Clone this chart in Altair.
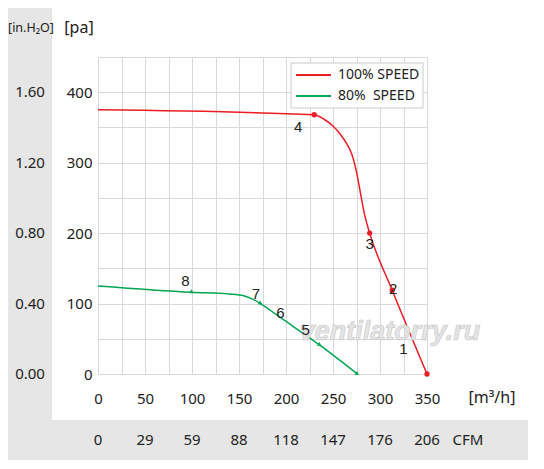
import altair as alt
import pandas as pd

# ---- data ----
red_flow = [0, 230, 240, 250, 258, 265, 270, 275, 280, 284, 289, 313, 350]
red_pa = [375, 368, 362, 352, 340, 326, 312, 287, 251, 224, 200, 119, 0]
green_flow = [0, 100, 140, 155, 165, 173, 192, 236, 276]
green_pa = [125, 116, 113.5, 111, 106, 100, 82, 41, 0]

red_pt_flow = [230, 289, 313, 350]
red_pt_pa = [368, 200, 119, 0]
green_pt_flow = [100, 173, 236, 276]
green_pt_pa = [116, 100, 41, 0]

lab_text = ["4", "3", "2", "1", "8", "7", "6", "5"]
lab_flow = [213, 289, 314, 325, 93, 168, 194, 221]
lab_pa = [350, 184, 121, 36, 132, 114, 87, 62]

series_names = ["100% SPEED", "80%\u00a0 SPEED"]
series_colors = ["#ed1c24", "#00a651"]

x_ticks = [0, 50, 100, 150, 200, 250, 300, 350]
cfm_labels = ["0", "29", "59", "88", "118", "147", "176", "206"]
pa_ticks = [0, 100, 200, 300, 400]
inh2o_labels = ["0.00", "0.40", "0.80", "1.20", "1.60"]

FONT = "Noto Sans"
GRAY = "#e5e6e5"
TXT = "#222222"

lines_df = pd.DataFrame({
    "flow": red_flow + green_flow,
    "pressure": red_pa + green_pa,
    "series": [series_names[0]] * len(red_flow) + [series_names[1]] * len(green_flow),
})
red_pts = pd.DataFrame({"flow": red_pt_flow, "pressure": red_pt_pa})
green_pts = pd.DataFrame({"flow": green_pt_flow, "pressure": green_pt_pa})
labels_df = pd.DataFrame({"flow": lab_flow, "pressure": lab_pa, "t": lab_text})
cfm_df = pd.DataFrame({"flow": x_ticks, "t": cfm_labels})
inh_df = pd.DataFrame({"pressure": pa_ticks, "t": inh2o_labels})
one = pd.DataFrame({"a": [0]})

xs = alt.Scale(domain=[0, 350], nice=False, zero=True)
ys = alt.Scale(domain=[0, 450], nice=False, zero=True)

X = alt.X("flow:Q", scale=xs, axis=alt.Axis(
    values=list(range(0, 351, 25)),
    labelExpr="datum.value % 50 === 0 ? datum.label : ''",
    grid=True, gridColor="#d9d9d9", ticks=False, domain=False,
    labelPadding=24, labelBaseline="middle", labelFontSize=15,
    labelFont=FONT, labelColor=TXT, labelFlush=False, labelOverlap=False,
    title=None))
Y = alt.Y("pressure:Q", scale=ys, axis=alt.Axis(
    values=list(range(0, 451, 50)),
    labelExpr="datum.value % 100 === 0 ? datum.label : ''",
    grid=True, gridColor="#d9d9d9", ticks=False, domain=False,
    labelPadding=6, labelFontSize=15, labelFont=FONT, labelColor=TXT,
    labelFlush=False, labelOverlap=False, title=None))

band_left = alt.Chart(one).mark_rect(color=GRAY).encode(
    x=alt.value(-91), x2=alt.value(-46), y=alt.value(-49), y2=alt.value(403))
band_bottom = alt.Chart(one).mark_rect(color=GRAY).encode(
    x=alt.value(-91), x2=alt.value(430), y=alt.value(363), y2=alt.value(403))

lines = alt.Chart(lines_df).mark_line(interpolate="monotone", strokeWidth=1.5).encode(
    x=X, y=Y,
    color=alt.Color("series:N", scale=alt.Scale(domain=series_names, range=series_colors),
                    legend=None),
)

red_marks = alt.Chart(red_pts).mark_point(filled=True, shape="circle", size=28,
                                          color=series_colors[0], opacity=1).encode(x=X, y=Y)
green_marks = alt.Chart(green_pts).mark_point(filled=True, shape="triangle-right", size=22,
                                              angle=35, color=series_colors[1],
                                              opacity=1).encode(x=X, y=Y)

pt_labels = alt.Chart(labels_df).mark_text(font="Liberation Sans", fontSize=15, color=TXT,
                                           align="center", baseline="middle").encode(
    x=X, y=Y, text="t:N")

cfm = alt.Chart(cfm_df).mark_text(font=FONT, fontSize=15, color=TXT, align="center",
                                  baseline="middle").encode(x=X, y=alt.value(383), text="t:N")
inh = alt.Chart(inh_df).mark_text(font=FONT, fontSize=15, color=TXT, align="center",
                                  baseline="middle").encode(x=alt.value(-68), y=Y, text="t:N")


def label(txt, x, y, size=15, align="center", **kw):
    return alt.Chart(one).mark_text(text=txt, font=FONT, fontSize=size, color=TXT,
                                    align=align, baseline="middle", **kw).encode(
        x=alt.value(x), y=alt.value(y))


heads = [
    label("[in.H\u2082O]", -67, -29, size=12.5),
    label("[pa]", -19, -29, size=16),
    label("[m\u00b3/h]", 394, 341, size=16),
    label("CFM", 370, 383, size=15),
]
watermark = alt.Chart(one).mark_text(text="ventilatorry.ru", font="Liberation Sans",
                                     fontSize=27, fontStyle="italic", fontWeight="bold",
                                     color="#e4e4e4", stroke="#c8c8c8", strokeWidth=0.6,
                                     align="center", baseline="alphabetic").encode(
    x=alt.value(292), y=alt.value(283))

# legend (box, sample lines, labels)
leg_box = alt.Chart(one).mark_rect(fill="white", stroke="#cccccc", strokeWidth=1).encode(
    x=alt.value(193), x2=alt.value(325), y=alt.value(6), y2=alt.value(51))
leg_items = []
for i, (name, col) in enumerate(zip(series_names, series_colors)):
    yy = 18 + 21 * i
    leg_items.append(alt.Chart(one).mark_rule(color=col, strokeWidth=2).encode(
        x=alt.value(198), x2=alt.value(233), y=alt.value(yy)))
    leg_items.append(label(name, 240, yy, size=14, align="left"))

chart = alt.layer(
    band_left, band_bottom, lines, watermark, red_marks, green_marks, pt_labels,
    cfm, inh, *heads, leg_box, *leg_items
).properties(
    width=329, height=317,
    autosize=alt.AutoSizeParams(type="none"),
    padding={"left": 90, "top": 49, "right": 101, "bottom": 86},
).configure_view(strokeWidth=0)

chart.save("out.html", embed_options={"renderer": "svg", "actions": False})
